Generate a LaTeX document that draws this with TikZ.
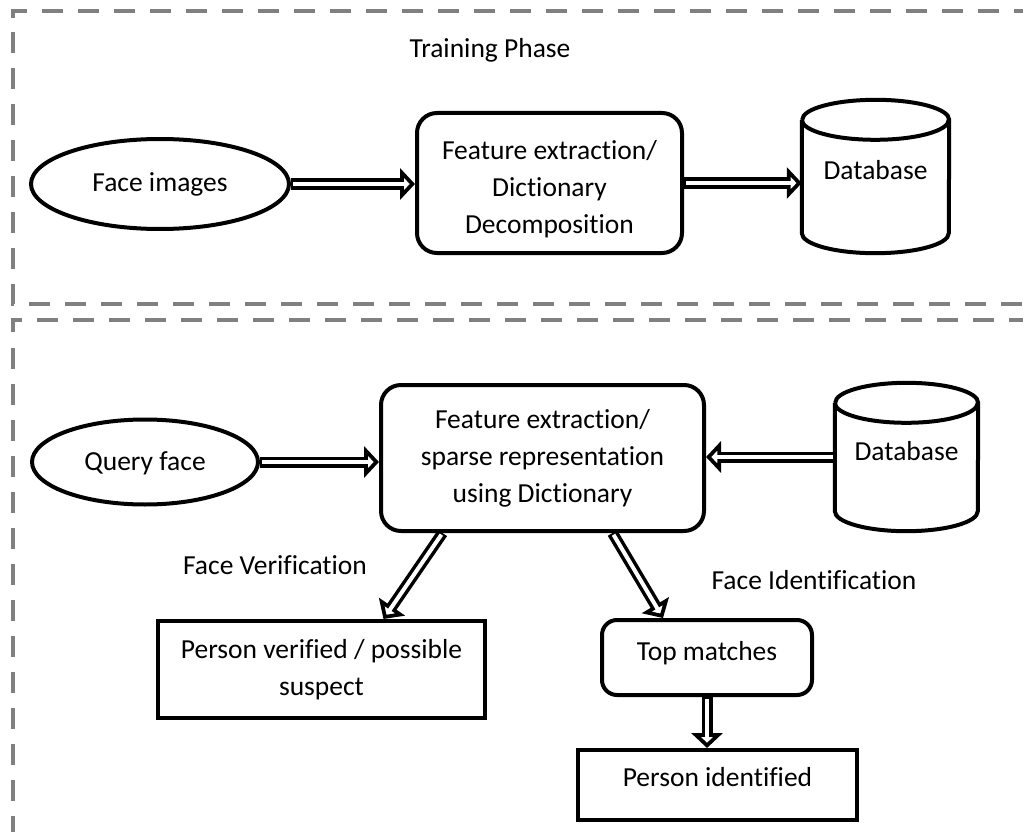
\documentclass[tikz,border=0pt]{standalone}
\usepackage{fontspec}
\setmainfont{Carlito}[Ligatures=NoCommon]
\usetikzlibrary{shapes.geometric,arrows.meta,calc}
\definecolor{framegray}{RGB}{128,128,128}
% centred lines, drawn shifted vertically while keeping their box size
\newcommand{\shiftlines}[2]{\raisebox{#1}[\height][\depth]{\begin{tabular}{@{}c@{}}#2\end{tabular}}}

\begin{document}
\begin{tikzpicture}[x=1pt,y=-1pt,
  every node/.style={font=\fontsize{27.5}{37}\selectfont, text=black},
  frame/.style={draw=framegray, line width=4pt, dash pattern=on 21pt off 15pt},
  shapeline/.style={draw=black, line width=4pt},
  ovalbox/.style={shapeline, ellipse, inner sep=0pt},
  roundbox/.style={shapeline, rectangle, rounded corners=20pt, inner sep=0pt},
  plainbox/.style={shapeline, rectangle, inner sep=0pt},
  dbbox/.style={rectangle, inner sep=0pt},
  dbl/.style={draw=black, line width=11pt,
    -{Triangle[length=15pt,width=31pt,line width=5pt,fill=white]},
    postaction={draw=white, line width=4pt, -, shorten >=7pt, shorten <=2pt}}
]
\useasboundingbox (0,0) rectangle (1023,832);

% dashed phase frames
\draw[frame] (13,18) -- (13,11) -- (1040,11);
\draw[frame] (13,32) -- (13,304) -- (1040,304);
\draw[frame] (13,332) -- (13,320) -- (1040,320);
\draw[frame] (13,348) -- (13,845);

% training phase
\node (title) at (490,50) {Training Phase};
\node[ovalbox, minimum width=258pt, minimum height=90pt] (fi) at (160,184) {Face images};
\node[roundbox, minimum width=265pt, minimum height=140pt] (fe1) at (549.5,183)
  {\shiftlines{-6pt}{Feature extraction/\\Dictionary\\Decomposition}};
\node[dbbox, minimum width=147pt, minimum height=153pt] (db1) at (875.5,176.5)
  {\shiftlines{4pt}{Database}};
\draw[shapeline] ([yshift=-20pt]db1.north west) -- ([yshift=20pt]db1.south west)
  arc[start angle=180, end angle=0, x radius=73.5, y radius=20]
  -- ([yshift=-20pt]db1.north east)
  arc[start angle=0, end angle=-180, x radius=73.5, y radius=20];
\draw[shapeline] ([yshift=-20pt]db1.north west)
  arc[start angle=180, end angle=0, x radius=73.5, y radius=20];

\draw[dbl] (fi.east) -- (fi.east -| fe1.west);
\draw[dbl] (fe1.east) -- (fe1.east -| db1.west);

% test phase
\node[ovalbox, minimum width=226pt, minimum height=85pt] (qf) at (145,462)
  {\shiftlines{-1pt}{Query face}};
\node[roundbox, minimum width=323pt, minimum height=146pt] (fe2) at (542.5,458)
  {\shiftlines{0pt}{Feature extraction/\\sparse representation\\using Dictionary}};
\node[dbbox, minimum width=143pt, minimum height=148pt] (db2) at (906.5,457)
  {\shiftlines{4pt}{Database}};
\draw[shapeline] ([yshift=-20pt]db2.north west) -- ([yshift=20pt]db2.south west)
  arc[start angle=180, end angle=0, x radius=71.5, y radius=20]
  -- ([yshift=-20pt]db2.north east)
  arc[start angle=0, end angle=-180, x radius=71.5, y radius=20];
\draw[shapeline] ([yshift=-20pt]db2.north west)
  arc[start angle=180, end angle=0, x radius=71.5, y radius=20];

\node (fv) at (275,565) {Face Verification};
\node (fid) at (814,580) {Face Identification};
\node[plainbox, minimum width=327pt, minimum height=97pt] (pv) at (321.5,669.5)
  {\shiftlines{0pt}{Person verified / possible\\suspect}};
\node[roundbox, rounded corners=15pt, minimum width=210pt, minimum height=75pt] (tm) at (707,657.5)
  {\shiftlines{4pt}{Top matches}};
\node[plainbox, minimum width=279pt, minimum height=70pt] (pid) at (717.5,785)
  {\shiftlines{6pt}{Person identified}};

\draw[dbl] (qf.east) -- (qf.east -| fe2.west);
\draw[dbl] (db2.west) -- (db2.west -| fe2.east);
\draw[dbl] ([xshift=-100pt]fe2.south) -- ([xshift=62pt]pv.north);
\draw[dbl] ([xshift=70pt]fe2.south) -- ([xshift=-44pt]tm.north);
\draw[dbl] (tm.south) -- (tm.south |- pid.north);
\end{tikzpicture}
\end{document}
